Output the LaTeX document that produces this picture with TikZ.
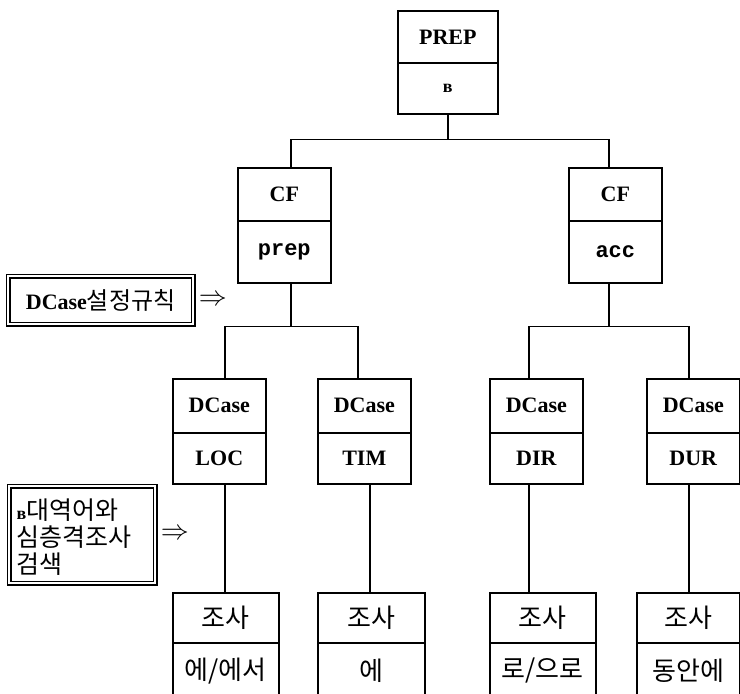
\documentclass[tikz,border=0pt]{standalone}
\usepackage{fontspec}
\setmainfont{Liberation Serif}
\newfontfamily\krfont{Noto Sans CJK KR}
\newfontfamily\cyfont{Liberation Serif}
\newfontfamily\codefont{Liberation Mono}

% a box cell given by its corners: name, x1, y1, x2, y2, content
\newcommand\cellnode[6]{%
  \node[cell, minimum width={#4-#2}, minimum height={#5-#3}] (#1) at (#2,#3) {#6};}
% the small Cyrillic preposition
\newcommand\prepv{{\cyfont\bfseries\fontsize{18}{18}\selectfont в}}
% text styles used inside the cells
\newcommand\latn{\bfseries\fontsize{22}{26}\selectfont}
\newcommand\kor{\krfont\mdseries\fontsize{26}{30}\selectfont}

\begin{document}
\begin{tikzpicture}[x=1pt,y=-1pt,
  cell/.style={draw, line width=1.6pt, inner sep=0pt, anchor=north west},
  conn/.style={line width=1.6pt},
  rulebox/.style={draw, line width=1.2pt, double=white, double distance=2.4pt,
    inner sep=0pt, anchor=north west},
  implies/.style={anchor=west, inner sep=0pt}]

\useasboundingbox (0,0) rectangle (740,694);
\fill[white] (0,0) rectangle (740,694);
\clip (0,0) rectangle (740,694);

% root
\cellnode{prep-t}{397}{10}{497}{62}{\latn PREP}
\cellnode{prep-b}{397}{62}{497}{113}{\prepv}

% case frames
\cellnode{cfl-t}{237}{167}{330}{220}{\latn CF}
\cellnode{cfl-b}{237}{220}{330}{282}{\codefont\bfseries\fontsize{22}{26}\selectfont prep}
\cellnode{cfr-t}{568}{167}{661}{220}{\latn CF}
\cellnode{cfr-b}{568}{220}{661}{282}{\codefont\bfseries\fontsize{22}{26}\selectfont acc}

% deep cases
\cellnode{loc-t}{172}{378}{265}{432}{\latn DCase}
\cellnode{loc-b}{172}{432}{265}{483}{\latn LOC}
\cellnode{tim-t}{317}{378}{410}{432}{\latn DCase}
\cellnode{tim-b}{317}{432}{410}{483}{\latn TIM}
\cellnode{dir-t}{489}{378}{582}{432}{\latn DCase}
\cellnode{dir-b}{489}{432}{582}{483}{\latn DIR}
\cellnode{dur-t}{646}{378}{739}{432}{\latn DCase}
\cellnode{dur-b}{646}{432}{739}{483}{\latn DUR}

% particles
\cellnode{jl-t}{172}{592}{278}{642}{\kor 조사}
\cellnode{jl-b}{172}{642}{278}{698}{\kor 에/에서}
\cellnode{jt-t}{317}{592}{424}{642}{\kor 조사}
\cellnode{jt-b}{317}{642}{424}{698}{\kor 에}
\cellnode{jd-t}{489}{592}{595}{642}{\kor 조사}
\cellnode{jd-b}{489}{642}{595}{698}{\kor 로/으로}
\cellnode{ju-t}{636}{592}{739}{642}{\kor 조사}
\cellnode{ju-b}{636}{642}{739}{698}{\kor 동안에}

% tree connectors
\draw[conn] (prep-b.south) -- ++(0,25) coordinate (hub0);
\draw[conn] ([xshift=6.5pt]cfl-t.north) |- (hub0) -| ([xshift=-6.5pt]cfr-t.north);

\draw[conn] ([xshift=6.5pt]cfl-b.south) -- ++(0,43) coordinate (hubl);
\draw[conn] ([xshift=5.5pt]loc-t.north) |- (hubl) -| ([xshift=-6.5pt]tim-t.north);
\draw[conn] ([xshift=-6.5pt]cfr-b.south) -- ++(0,43) coordinate (hubr);
\draw[conn] ([xshift=-7.5pt]dir-t.north) |- (hubr) -| ([xshift=-4.5pt]dur-t.north);

\draw[conn] ([xshift=5.5pt]loc-b.south) -- ([xshift=5.5pt]loc-b.south |- jl-t.north);
\draw[conn] ([xshift=5.5pt]tim-b.south) -- ([xshift=5.5pt]tim-b.south |- jt-t.north);
\draw[conn] ([xshift=-7.5pt]dir-b.south) -- ([xshift=-7.5pt]dir-b.south |- jd-t.north);
\draw[conn] ([xshift=-4.5pt]dur-b.south) -- ([xshift=-4.5pt]dur-b.south |- ju-t.north);

% rule annotations
\node[rulebox, minimum width=185, minimum height=48] (rule1) at (7.5,275.5)
  {{\latn DCase}{\kor\fontsize{24}{28}\selectfont 설정규칙}};
\node[implies] (imp1) at ([xshift=5pt]rule1.east) {\scalebox{1.35}{\fontsize{20}{24}\selectfont$\Rightarrow$}};

\node[rulebox, minimum width=146, minimum height=97] (rule2) at (8.5,485.5) {};
\node[anchor=west, inner sep=0pt, align=left,
  font=\krfont\fontsize{25}{27}\selectfont] (rule2-text) at ([xshift=8pt,yshift=-3pt]rule2.west)
  {\prepv 대역어와\\ 심층격조사\\ 검색};
\node[implies] (imp2) at ([xshift=5pt]rule2.east) {\scalebox{1.35}{\fontsize{20}{24}\selectfont$\Rightarrow$}};

\end{tikzpicture}
\end{document}
